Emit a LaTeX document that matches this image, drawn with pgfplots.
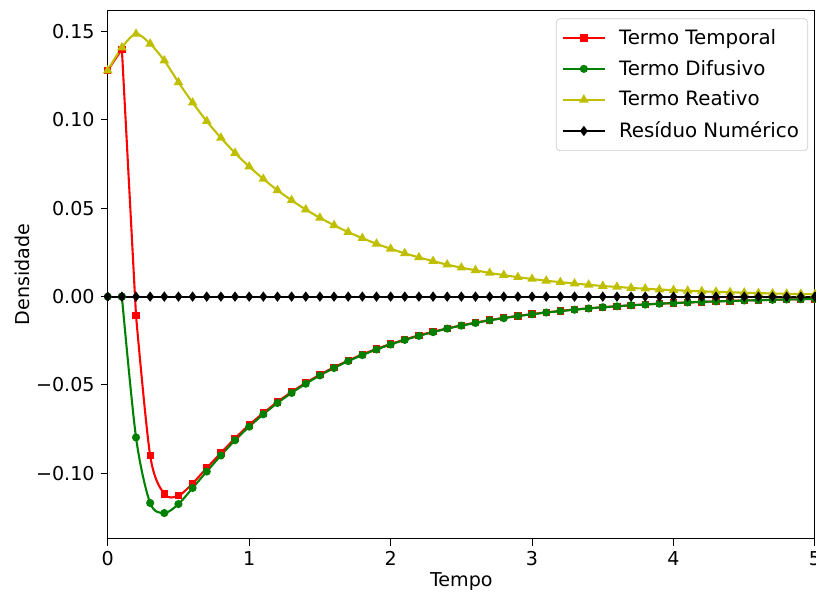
\documentclass[border=0pt]{standalone}
\usepackage{fontspec}
\setmainfont{DejaVu Sans}
\usepackage{pgfplots}
\usepackage{pgfplotstable}
\pgfplotsset{compat=1.18}

\definecolor{mplgreen}{rgb}{0,0.5,0}
\definecolor{mplyellow}{rgb}{0.75,0.75,0}

\pgfplotstableread{
t temp dif rea res
0.0 0.1280 0.0000 0.1280 0
0.1 0.1400 0.0000 0.1410 0
0.2 -0.0108 -0.0797 0.1487 0
0.3 -0.0900 -0.1168 0.1431 0
0.4 -0.1117 -0.1225 0.1336 0
0.5 -0.1127 -0.1174 0.1213 0
0.6 -0.1057 -0.1083 0.1098 0
0.7 -0.0970 -0.0990 0.0993 0
0.8 -0.0885 -0.0899 0.0899 0
0.9 -0.0802 -0.0813 0.0813 0
1.0 -0.0726 -0.0736 0.0736 0
1.1 -0.0659 -0.0666 0.0666 0
1.2 -0.0596 -0.0602 0.0602 0
1.3 -0.0540 -0.0545 0.0545 0
1.4 -0.0488 -0.0493 0.0493 0
1.5 -0.0442 -0.0446 0.0446 0
1.6 -0.0400 -0.0404 0.0404 0
1.7 -0.0362 -0.0365 0.0365 0
1.8 -0.0327 -0.0331 0.0331 0
1.9 -0.0296 -0.0299 0.0299 0
2.0 -0.0268 -0.0271 0.0271 0
2.1 -0.0243 -0.0245 0.0245 0
2.2 -0.0219 -0.0222 0.0222 0
2.3 -0.0199 -0.0201 0.0201 0
2.4 -0.0180 -0.0181 0.0181 0
2.5 -0.0163 -0.0164 0.0164 0
2.6 -0.0147 -0.0149 0.0149 0
2.7 -0.0133 -0.0134 0.0134 0
2.8 -0.0120 -0.0122 0.0122 0
2.9 -0.0109 -0.0110 0.0110 0
3.0 -0.0099 -0.0100 0.0100 0
3.1 -0.0089 -0.0090 0.0090 0
3.2 -0.0081 -0.0082 0.0082 0
3.3 -0.0073 -0.0074 0.0074 0
3.4 -0.0066 -0.0067 0.0067 0
3.5 -0.0060 -0.0060 0.0060 0
3.6 -0.0054 -0.0055 0.0055 0
3.7 -0.0049 -0.0049 0.0049 0
3.8 -0.0044 -0.0045 0.0045 0
3.9 -0.0040 -0.0040 0.0040 0
4.0 -0.0036 -0.0037 0.0037 0
4.1 -0.0033 -0.0033 0.0033 0
4.2 -0.0030 -0.0030 0.0030 0
4.3 -0.0027 -0.0027 0.0027 0
4.4 -0.0024 -0.0025 0.0025 0
4.5 -0.0022 -0.0022 0.0022 0
4.6 -0.0020 -0.0020 0.0020 0
4.7 -0.0018 -0.0018 0.0018 0
4.8 -0.0016 -0.0016 0.0016 0
4.9 -0.0015 -0.0015 0.0015 0
5.0 -0.0013 -0.0013 0.0013 0
}\datatable

\begin{document}
\begin{tikzpicture}
\begin{axis}[
  scale only axis,
  width=407pt, height=304pt,
  xmin=0, xmax=5,
  ymin=-0.137, ymax=0.162,
  xtick={0,1,2,3,4,5},
  ytick={-0.10,-0.05,0,0.05,0.10,0.15},
  yticklabels={−0.10,−0.05,0.00,0.05,0.10,0.15},
  /pgf/number format/assume math mode=true,
  tick align=outside,
  tick pos=left,
  major tick length=4pt,
  tick style={black, line width=0.6pt},
  axis line style={line width=0.6pt},
  tick label style={font=\fontsize{11}{13}\selectfont},
  xlabel={Tempo},
  ylabel={Densidade},
  xlabel style={at={(axis description cs:0.5,-0.0816)}, anchor=center, font=\fontsize{11}{13}\selectfont},
  ylabel style={at={(axis description cs:-0.1204,0.5)}, anchor=center, font=\fontsize{11}{13}\selectfont},
  legend style={at={(1,1)}, anchor=north east, xshift=-4pt, yshift=-4.6pt,
    draw=black!20, rounded corners=2pt, fill=white,
    font=\fontsize{11.4}{13.7}\selectfont, row sep=3.6pt,
    inner xsep=3pt, inner ysep=4pt},
  legend cell align=left,
  legend image code/.code={\draw[mark repeat=2,mark phase=2] plot coordinates {(0cm,0cm) (0.43cm,0cm) (0.86cm,0cm)};\path (1.05cm,0cm);},
  every axis plot/.append style={line width=1.2pt},
]
\addplot[red, mark=square*, mark size=1.5pt, forget plot, restrict x to domain=0:0.25] table[x=t,y=temp] {\datatable};
\addplot[red, mark=square*, mark size=1.5pt, smooth, tension=0.5, restrict x to domain=0.15:5] table[x=t,y=temp] {\datatable};
\addlegendentry{Termo Temporal}
\addplot[mplgreen, mark=*, mark size=1.7pt, forget plot, restrict x to domain=0:0.15] table[x=t,y=dif] {\datatable};
\addplot[mplgreen, mark=*, mark size=1.7pt, smooth, tension=0.5, restrict x to domain=0.05:5] table[x=t,y=dif] {\datatable};
\addlegendentry{Termo Difusivo}
\addplot[mplyellow, mark=triangle*, mark size=2pt, smooth, tension=0.5] table[x=t,y=rea] {\datatable};
\addlegendentry{Termo Reativo}
\addplot[black, mark=diamond*, mark size=2pt] table[x=t,y=res] {\datatable};
\addlegendentry{Resíduo Numérico}
\end{axis}
\pgfresetboundingbox
\path[use as bounding box] ([xshift=-62pt,yshift=-32pt]current axis.south west) rectangle ([xshift=0.6pt,yshift=6pt]current axis.north east);
\end{tikzpicture}
\end{document}
